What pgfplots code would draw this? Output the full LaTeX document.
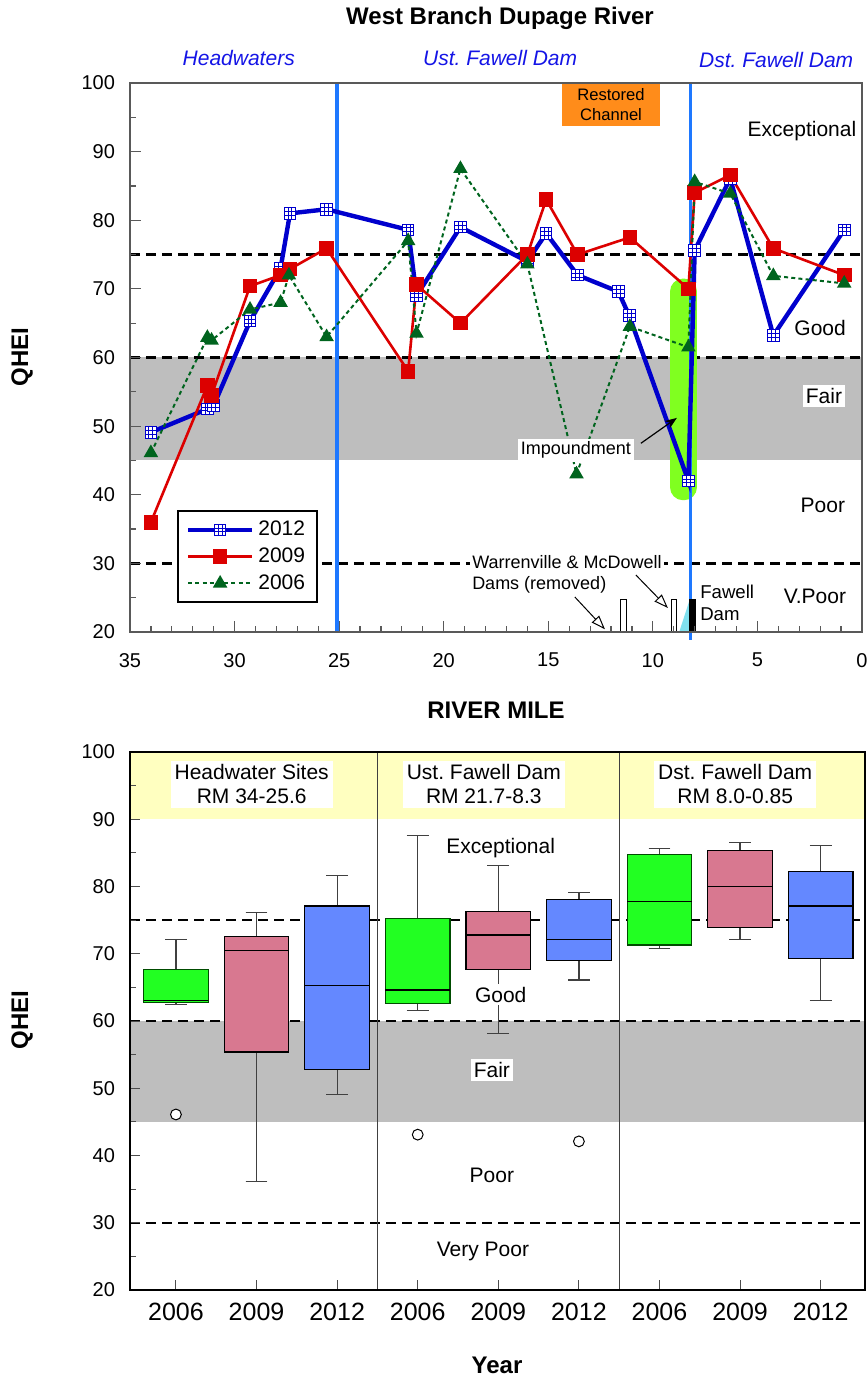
\documentclass[border=0pt]{standalone}
\usepackage{fontspec}
\setmainfont{Liberation Sans}
\usepackage{pgfplots}
\pgfplotsset{compat=1.18}
\usepgfplotslibrary{statistics}
\usetikzlibrary{arrows.meta}

\definecolor{ser12}{RGB}{0,0,205}
\definecolor{ser09}{RGB}{220,0,0}
\definecolor{ser06}{RGB}{0,100,30}
\definecolor{fairband}{RGB}{190,190,190}
\definecolor{damline}{RGB}{30,120,255}
\definecolor{impound}{RGB}{128,255,32}
\definecolor{restored}{RGB}{255,140,26}
\definecolor{water}{RGB}{128,224,238}
\definecolor{regionblue}{RGB}{20,20,230}
\definecolor{excband}{RGB}{255,255,192}
\definecolor{box06}{RGB}{34,255,34}
\definecolor{box09}{RGB}{216,120,144}
\definecolor{box12}{RGB}{100,136,255}

% square marker with an inner 3x3 grid
\pgfdeclareplotmark{gridsquare}{%
  \pgfpathrectangle{\pgfqpoint{-\pgfplotmarksize}{-\pgfplotmarksize}}{\pgfqpoint{2\pgfplotmarksize}{2\pgfplotmarksize}}%
  \pgfusepathqfillstroke
  \pgfpathmoveto{\pgfqpoint{-0.333\pgfplotmarksize}{-\pgfplotmarksize}}\pgfpathlineto{\pgfqpoint{-0.333\pgfplotmarksize}{\pgfplotmarksize}}%
  \pgfpathmoveto{\pgfqpoint{0.333\pgfplotmarksize}{-\pgfplotmarksize}}\pgfpathlineto{\pgfqpoint{0.333\pgfplotmarksize}{\pgfplotmarksize}}%
  \pgfpathmoveto{\pgfqpoint{-\pgfplotmarksize}{-0.333\pgfplotmarksize}}\pgfpathlineto{\pgfqpoint{\pgfplotmarksize}{-0.333\pgfplotmarksize}}%
  \pgfpathmoveto{\pgfqpoint{-\pgfplotmarksize}{0.333\pgfplotmarksize}}\pgfpathlineto{\pgfqpoint{\pgfplotmarksize}{0.333\pgfplotmarksize}}%
  \pgfusepathqstroke
}

\tikzset{
  qline/.style={black, line width=1.3pt, dash pattern=on 5pt off 3pt},
  small/.style={font=\fontsize{9}{10.5}\selectfont},
  band/.style={font=\fontsize{10.5}{12}\selectfont},
  outlier/.style={mark=*, mark size=2.7pt, mark options={fill=white, draw=black, line width=0.5pt}},
}

\begin{document}
\frenchspacing
\begin{tikzpicture}
\useasboundingbox (0,0) rectangle (433pt,-689.5pt);

% ---------------- QHEI by river mile ----------------
\begin{axis}[
  at={(65pt,-41.5pt)}, anchor=north west,
  scale only axis, width=366pt, height=274.5pt,
  xmin=0, xmax=35, x dir=reverse, ymin=20, ymax=100,
  xtick={0,5,...,35}, minor x tick num=4,
  ytick={20,30,...,100}, minor y tick num=1,
  tick align=inside, xtick pos=left, ytick pos=left,
  major tick length=5.5pt, minor tick length=3pt,
  axis line style={black!65, line width=0.7pt},
  tick style={black!65, line width=0.6pt},
  /pgf/number format/assume math mode=true,
  xticklabel style={font=\fontsize{10}{12}\selectfont, yshift=-7pt},
  yticklabel style={font=\fontsize{10}{12}\selectfont, xshift=-4pt},
  clip=false, axis on top,
  legend style={at={(0.064,0.222)}, anchor=north west, draw=black, line width=1.1pt,
    fill=white, font=\fontsize{10.5}{12}\selectfont, inner xsep=4pt, inner ysep=3pt,
    row sep=0.5pt, cells={anchor=west}},
  legend image code/.code={\draw[mark repeat=2,mark phase=2] plot coordinates {(0pt,0pt) (16pt,0pt) (32pt,0pt)};},
]
% quality bands and thresholds
\fill[fairband] (axis cs:35,45) rectangle (axis cs:0,60);
\draw[qline] (axis cs:35,75) -- (axis cs:0,75);
\draw[qline] (axis cs:35,60) -- (axis cs:0,60);
\draw[qline] (axis cs:35,30) -- (axis cs:0,30);
% impoundment highlight and restored reach
\fill[impound, rounded corners=6.5pt] (axis cs:9.18,39.2) rectangle (axis cs:7.89,71.5);
\fill[restored] (axis cs:14.35,93.7) rectangle (axis cs:9.66,100);
\node[font=\fontsize{8.3}{9.8}\selectfont, align=center] at (axis cs:12.0,96.85) {Restored\\Channel};
% section boundaries
\draw[damline, line width=1.6pt] (axis cs:25.1,20) -- (axis cs:25.1,100);
\draw[damline, line width=1.6pt] (axis cs:8.2,18.9) -- (axis cs:8.2,100);
% dams
\draw[black, line width=0.5pt, fill=white] (axis cs:11.53,20) rectangle (axis cs:11.24,24.8);
\draw[black, line width=0.5pt, fill=white] (axis cs:9.13,20) rectangle (axis cs:8.85,24.8);
\fill[water] (axis cs:8.74,20) -- (axis cs:8.26,24.5) -- (axis cs:8.26,20) -- cycle;
\fill[black] (axis cs:8.26,20) rectangle (axis cs:7.94,24.8);

\addplot[ser12, line width=2.2pt, mark=gridsquare, mark size=2.9pt,
  mark options={solid, line width=0.5pt, fill=white, draw=ser12}] coordinates {
  (34,49.1) (31.3,52.5) (31.0,53) (29.26,65.3) (27.8,73.0) (27.35,81) (25.6,81.6)
  (21.7,78.6) (21.3,69) (19.2,79) (16.0,74) (15.1,78.1) (13.6,72) (11.65,69.6)
  (11.13,66.1) (8.3,42) (8.0,75.6) (6.3,86.1) (4.24,63.2) (0.85,78.6)};
\addlegendentry{2012}
\addplot[ser09, line width=1.3pt, mark=square*, mark size=3pt,
  mark options={solid, fill=ser09, draw=ser09}] coordinates {
  (34,36) (31.3,55.9) (31.1,54.5) (29.26,70.4) (27.8,72.0) (27.35,72.9) (25.6,75.9)
  (21.7,58) (21.3,70.6) (19.2,65) (16.0,75) (15.1,83) (13.6,75) (11.1,77.5)
  (8.3,70) (8.0,84) (6.3,86.6) (4.24,75.9) (0.85,72)};
\addlegendentry{2009}
\addplot[ser06, line width=1pt, dash pattern=on 2pt off 1.6pt, mark=triangle*, mark size=3.2pt,
  mark options={solid, fill=ser06, draw=ser06}] coordinates {
  (34,46.1) (31.3,62.9) (31.1,62.5) (29.26,67) (27.8,68) (27.4,72) (25.6,63)
  (21.7,77) (21.3,63.5) (19.2,87.5) (16.0,73.6) (13.65,43) (11.1,64.5)
  (8.3,61.5) (8.0,85.6) (6.3,83.9) (4.24,71.9) (0.85,70.8)};
\addlegendentry{2006}

% annotations
\node[small, fill=white, inner sep=1.5pt] at (axis cs:13.68,46.5) {Impoundment};
\draw[-{Stealth[length=6pt,width=4.5pt]}, line width=0.6pt] (axis cs:10.57,47.5) -- (axis cs:8.85,51.2);
\node[small, fill=white, inner sep=1pt, anchor=west, align=left] at (axis cs:18.75,28.4) {Warrenville \& McDowell\\Dams (removed)};
\draw[-{Triangle[open,length=7pt,width=5pt]}, line width=0.5pt] (axis cs:13.73,25.1) -- (axis cs:12.29,20.4);
\draw[-{Triangle[open,length=7pt,width=5pt]}, line width=0.5pt] (axis cs:10.81,28.3) -- (axis cs:9.28,23.5);
\node[font=\fontsize{9.3}{11}\selectfont, anchor=west, align=left, inner sep=0pt] at (axis cs:7.75,24.3) {Fawell\\Dam};
\node[band] at (axis cs:2.87,93) {Exceptional};
\node[band] at (axis cs:2.0,64.3) {Good};
\node[band, fill=white, inner sep=1.5pt] at (axis cs:1.82,54.4) {Fair};
\node[band] at (axis cs:1.87,38.5) {Poor};
\node[band] at (axis cs:2.25,25.2) {V.Poor};
% reach names
\node[regionblue, font=\fontsize{10.5}{12}\selectfont\itshape] at (axis cs:29.8,103.6) {Headwaters};
\node[regionblue, font=\fontsize{10.5}{12}\selectfont\itshape] at (axis cs:17.3,103.6) {Ust. Fawell Dam};
\node[regionblue, font=\fontsize{10.5}{12}\selectfont\itshape] at (axis cs:4.1,103.3) {Dst. Fawell Dam};
\end{axis}

% ---------------- QHEI by reach and year ----------------
\begin{axis}[
  at={(65pt,-376pt)}, anchor=north west,
  scale only axis, width=367.5pt, height=269pt,
  xmin=-0.57, xmax=8.55, ymin=20, ymax=100,
  xtick={0,...,8}, xticklabels={2006,2009,2012,2006,2009,2012,2006,2009,2012},
  ytick={20,30,...,100}, minor y tick num=1,
  tick align=inside, xtick pos=left, ytick pos=left,
  major tick length=5pt, minor tick length=3pt,
  axis line style={black, line width=0.6pt},
  tick style={black!70, line width=0.5pt},
  /pgf/number format/assume math mode=true,
  xticklabel style={font=\fontsize{12.5}{14}\selectfont, yshift=-3pt},
  yticklabel style={font=\fontsize{10}{12}\selectfont, xshift=-4pt},
  clip=false, axis on top,
  boxplot/draw direction=y,
  boxplot/box extend=0.8, boxplot/whisker extend=0.27,
  boxplot/every median/.style={black, line width=0.6pt},
  boxplot/every whisker/.style={black!75, line width=0.6pt},
]
\fill[excband] (axis cs:-0.57,90) rectangle (axis cs:8.55,100);
\fill[fairband] (axis cs:-0.57,45) rectangle (axis cs:8.55,60);
\draw[qline] (axis cs:-0.57,75) -- (axis cs:8.55,75);
\draw[qline, line width=1.1pt] (axis cs:-0.57,60) -- (axis cs:8.55,60);
\draw[qline, line width=1.1pt] (axis cs:-0.57,30) -- (axis cs:8.55,30);
\draw[black!75, line width=0.6pt] (axis cs:2.5,20) -- (axis cs:2.5,100);
\draw[black!75, line width=0.6pt] (axis cs:5.5,20) -- (axis cs:5.5,100);

% Headwater sites
\addplot[boxplot prepared={draw position=0, lower whisker=62.5, lower quartile=62.8,
  median=63.0, upper quartile=67.6, upper whisker=72.1},
  fill=box06, draw=black!70!green, line width=0.6pt, outlier]
  table[row sep=\\, y index=0] {v\\ 46.1\\};
\addplot[boxplot prepared={draw position=1, lower whisker=36.1, lower quartile=55.4,
  median=70.5, upper quartile=72.6, upper whisker=76.1},
  fill=box09, draw=black, line width=0.6pt] coordinates {};
\addplot[boxplot prepared={draw position=2, lower whisker=49.1, lower quartile=52.8,
  median=65.3, upper quartile=77.1, upper whisker=81.6},
  fill=box12, draw=black, line width=0.6pt] coordinates {};
% Upstream of Fawell Dam
\addplot[boxplot prepared={draw position=3, lower whisker=61.6, lower quartile=62.6,
  median=64.6, upper quartile=75.3, upper whisker=87.6},
  fill=box06, draw=black!70!green, line width=0.6pt, outlier]
  table[row sep=\\, y index=0] {v\\ 43.1\\};
\addplot[boxplot prepared={draw position=4, lower whisker=58.1, lower quartile=67.6,
  median=72.8, upper quartile=76.3, upper whisker=83.1},
  fill=box09, draw=black, line width=0.6pt] coordinates {};
\addplot[boxplot prepared={draw position=5, lower whisker=66.1, lower quartile=69.0,
  median=72.1, upper quartile=78.1, upper whisker=79.1},
  fill=box12, draw=black, line width=0.6pt, outlier]
  table[row sep=\\, y index=0] {v\\ 42.1\\};
% Downstream of Fawell Dam
\addplot[boxplot prepared={draw position=6, lower whisker=70.8, lower quartile=71.3,
  median=77.8, upper quartile=84.7, upper whisker=85.6},
  fill=box06, draw=black!70!green, line width=0.6pt] coordinates {};
\addplot[boxplot prepared={draw position=7, lower whisker=72.1, lower quartile=73.9,
  median=80.0, upper quartile=85.3, upper whisker=86.6},
  fill=box09, draw=black, line width=0.6pt] coordinates {};
\addplot[boxplot prepared={draw position=8, lower whisker=63.1, lower quartile=69.3,
  median=77.1, upper quartile=82.2, upper whisker=86.1},
  fill=box12, draw=black, line width=0.6pt] coordinates {};

\node[band, fill=white, align=center, inner sep=2pt] at (axis cs:0.94,95.2) {Headwater Sites\\RM 34-25.6};
\node[band, fill=white, align=center, inner sep=2pt] at (axis cs:3.82,95.2) {Ust. Fawell Dam\\RM 21.7-8.3};
\node[band, fill=white, align=center, inner sep=2pt] at (axis cs:6.94,95.2) {Dst. Fawell Dam\\RM 8.0-0.85};
\node[band] at (axis cs:4.03,85.7) {Exceptional};
\node[band, fill=white, inner sep=1.5pt] at (axis cs:4.03,63.9) {Good};
\node[band, fill=white, inner sep=1.5pt] at (axis cs:3.92,52.7) {Fair};
\node[band] at (axis cs:3.92,37.0) {Poor};
\node[band] at (axis cs:3.81,25.8) {Very Poor};
\end{axis}

% titles
\node[font=\fontsize{12}{14}\selectfont\bfseries] at (250pt,-9pt) {West Branch Dupage River};
\node[font=\fontsize{12}{14}\selectfont\bfseries] at (248pt,-355pt) {RIVER MILE};
\node[font=\fontsize{12}{14}\selectfont\bfseries, rotate=90] at (11pt,-178.5pt) {QHEI};
\node[font=\fontsize{12}{14}\selectfont\bfseries, rotate=90] at (11pt,-510pt) {QHEI};
\node[font=\fontsize{12}{14}\selectfont\bfseries] at (248.5pt,-682.5pt) {Year};
\end{tikzpicture}
\end{document}
